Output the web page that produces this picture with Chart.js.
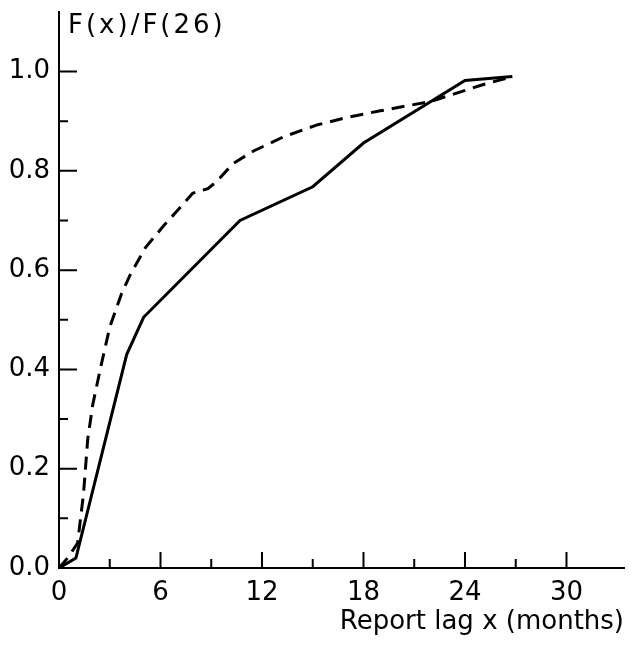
<!DOCTYPE html>
<html>
<head>
<meta charset="utf-8">
<script src="https://cdn.jsdelivr.net/npm/chart.js@4/dist/chart.umd.min.js"></script>
<style>
	html, body { margin: 0; padding: 0; background: #fff; }
	#wrap { width: 638px; height: 649px; }
</style>
</head>
<body>
<div id="wrap"><canvas id="lagChart" width="638" height="649"></canvas></div>
<script>
// report lag (months) and F(x)/F(26)
var solidX = [0, 1, 4, 5, 10.7, 15, 18, 24, 26.8];
var solidY = [0, 0.02, 0.43, 0.505, 0.70, 0.768, 0.856, 0.982, 0.99];

var dashedX = [0, 0.5, 1.1, 1.45, 1.7, 2.0, 2.5, 3.0, 3.7, 4.2, 5.1, 6.2, 7.0, 7.9, 8.8, 9.3, 10.3, 11.5, 13.3, 15.3, 17.2, 19, 22, 24.9, 26.8];
var dashedY = [0, 0.02, 0.05, 0.15, 0.26, 0.33, 0.41, 0.485, 0.553, 0.59, 0.645, 0.69, 0.72, 0.755, 0.764, 0.778, 0.815, 0.84, 0.869, 0.893, 0.909, 0.921, 0.94, 0.972, 0.99];

var xMajorTicks = [0, 6, 12, 18, 24, 30];
var xMinorTicks = [3, 9, 15, 21, 27];
var yMajorTicks = [0, 0.2, 0.4, 0.6, 0.8, 1.0];
var yMinorTicks = [0.1, 0.3, 0.5, 0.7, 0.9];

var yLabel = 'F(x)/F(26)';
var xLabel = 'Report lag x (months)';

function toPoints(xs, ys) {
	return xs.map(function (x, i) { return { x: x, y: ys[i] }; });
}

var fontFamily = '"DejaVu Sans", sans-serif';

// inward tick marks and the label in the top-left corner
var inwardTicks = {
	id: 'inwardTicks',
	afterDraw: function (chart) {
		var ctx = chart.ctx;
		var xs = chart.scales.x, ys = chart.scales.y;
		var left = chart.chartArea.left, bottom = chart.chartArea.bottom;
		ctx.save();
		ctx.strokeStyle = '#000';
		ctx.lineWidth = 2;
		ctx.beginPath();
		yMajorTicks.forEach(function (v) {
			var p = ys.getPixelForValue(v);
			ctx.moveTo(left, p); ctx.lineTo(left + 18, p);
		});
		yMinorTicks.forEach(function (v) {
			var p = ys.getPixelForValue(v);
			ctx.moveTo(left, p); ctx.lineTo(left + 9, p);
		});
		xMajorTicks.forEach(function (v) {
			var p = xs.getPixelForValue(v);
			ctx.moveTo(p, bottom); ctx.lineTo(p, bottom - 16);
		});
		xMinorTicks.forEach(function (v) {
			var p = xs.getPixelForValue(v);
			ctx.moveTo(p, bottom); ctx.lineTo(p, bottom - 9);
		});
		ctx.stroke();

		ctx.fillStyle = '#000';
		ctx.font = '26px ' + fontFamily;
		ctx.letterSpacing = '3px';
		ctx.textAlign = 'left';
		ctx.textBaseline = 'middle';
		ctx.fillText(yLabel, left + 9, 26);
		ctx.letterSpacing = '0px';
		ctx.restore();
	}
};

new Chart(document.getElementById('lagChart'), {
	type: 'line',
	data: {
		datasets: [{
			label: 'solid',
			data: toPoints(solidX, solidY),
			borderColor: '#000',
			borderWidth: 3,
			pointRadius: 0,
			tension: 0,
			fill: false
		}, {
			label: 'dashed',
			data: toPoints(dashedX, dashedY),
			borderColor: '#000',
			borderWidth: 3,
			borderDash: [13, 8],
			pointRadius: 0,
			tension: 0,
			fill: false
		}]
	},
	options: {
		responsive: false,
		devicePixelRatio: 1,
		animation: false,
		layout: { padding: { top: 12, right: 14, left: 0, bottom: 0 } },
		plugins: {
			legend: { display: false },
			tooltip: { enabled: false }
		},
		scales: {
			x: {
				type: 'linear',
				min: 0,
				max: 33.4,
				afterFit: function (scale) {
					scale.height = 81;
					scale.paddingLeft = 0;
					scale.paddingRight = 0;
				},
				grid: { display: false, drawTicks: false },
				border: { display: true, color: '#000', width: 2 },
				afterBuildTicks: function (scale) {
					scale.ticks = xMajorTicks.map(function (v) { return { value: v }; });
				},
				ticks: {
					color: '#000',
					padding: 10,
					maxRotation: 0,
					font: { family: fontFamily, size: 26 }
				},
				title: {
					display: true,
					text: xLabel,
					align: 'end',
					color: '#000',
					padding: { top: 0, bottom: 11 },
					font: { family: fontFamily, size: 26 }
				}
			},
			y: {
				min: 0,
				max: 1.12,
				afterFit: function (scale) {
					scale.width = 59;
					scale.paddingTop = 0;
					scale.paddingBottom = 0;
				},
				grid: { display: false, drawTicks: false },
				border: { display: true, color: '#000', width: 2 },
				afterBuildTicks: function (scale) {
					scale.ticks = yMajorTicks.map(function (v) { return { value: v }; });
				},
				ticks: {
					color: '#000',
					padding: 9,
					font: { family: fontFamily, size: 26 },
					callback: function (v) { return v.toFixed(1); }
				}
			}
		}
	},
	plugins: [inwardTicks]
});
</script>
</body>
</html>
